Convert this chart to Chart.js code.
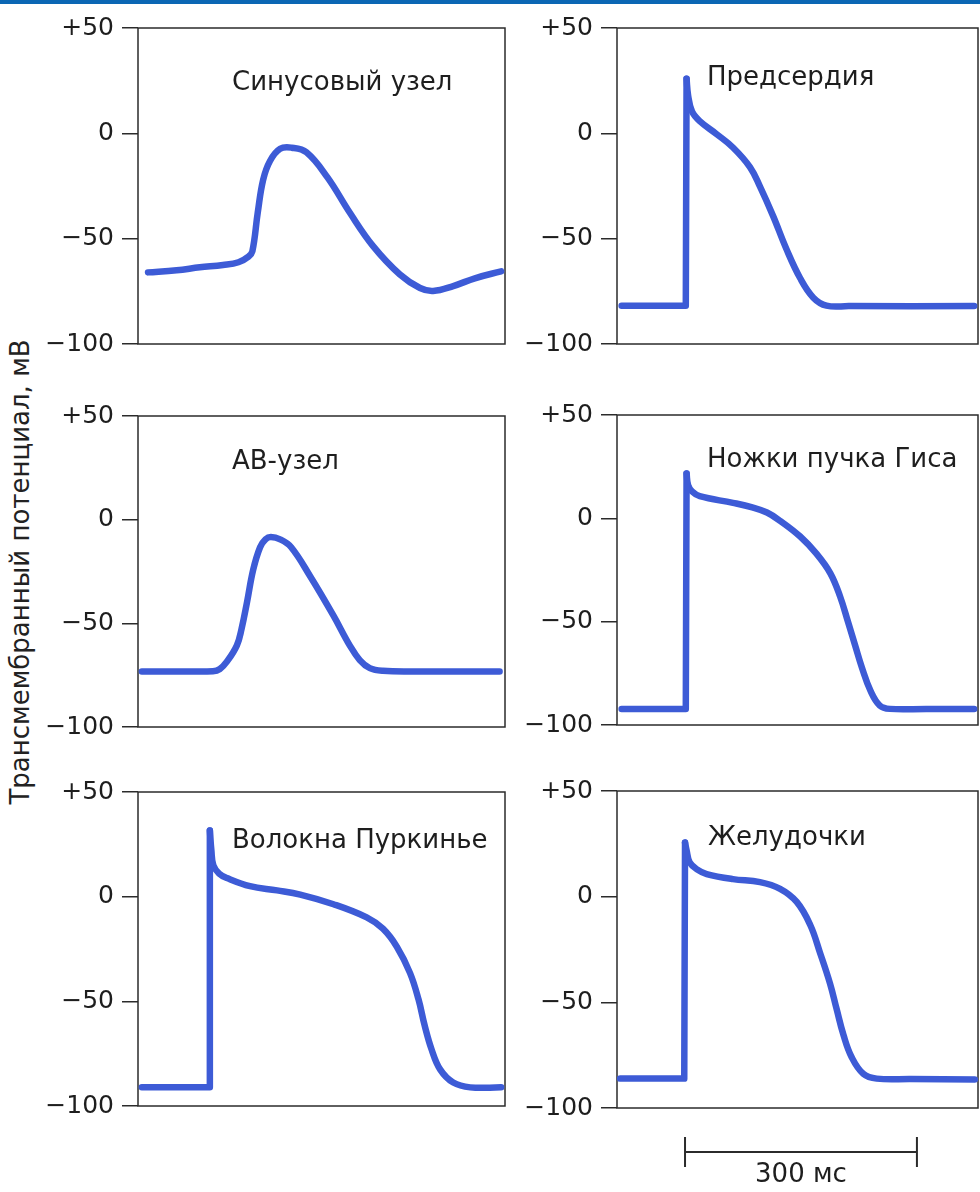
<!DOCTYPE html>
<html lang="ru">
<head>
<meta charset="utf-8">
<title>Потенциалы действия сердца</title>
<script src="https://cdn.jsdelivr.net/npm/chart.js@4.4.1/dist/chart.umd.min.js"></script>
<style>
  html, body { margin: 0; padding: 0; background: #fff; }
  body { width: 980px; height: 1192px; position: relative; overflow: hidden; font-family: "DejaVu Sans", sans-serif; }
  .topbar { position: absolute; left: 0; top: 0; width: 980px; height: 4px; background: #0b67b4; }
  .ytitle { position: absolute; left: 20px; top: 572px; transform: translate(-50%, -50%) rotate(-90deg); white-space: nowrap; font-size: 26px; color: #222; }
  canvas { position: absolute; }
</style>
</head>
<body>
<div class="topbar"></div>
<div class="ytitle">Трансмембранный потенциал, мВ</div>
<canvas id="sinus"></canvas>
<canvas id="atria"></canvas>
<canvas id="avnode"></canvas>
<canvas id="his"></canvas>
<canvas id="purkinje"></canvas>
<canvas id="ventricle"></canvas>
<script>
// time in ms, potential in mV
const sinusT = [13, 50, 80, 110, 130, 143, 148, 155, 162, 171, 184, 199, 218, 245, 274, 304, 339, 365, 382, 408, 436, 470];
const sinusV = [-66, -65, -63.6, -62.5, -61.2, -58.5, -56, -37.6, -22, -13, -7.3, -6.8, -9, -20.8, -37.6, -53.4, -67, -73.4, -74.8, -72.5, -68.8, -65.5];

const atriaT = [6, 89, 90, 92, 97, 107, 129, 150, 172, 185, 202, 219, 237, 254, 271, 300, 462];
const atriaV = [-81.8, -81.8, 25.9, 18, 10.4, 5.8, -0.4, -6.7, -16, -25.3, -39.3, -54.8, -68.8, -78, -81.8, -82, -82];

const avT = [5, 60, 97, 106, 115, 128, 134, 141, 149, 158, 165, 172, 184, 198, 223, 253, 274, 287, 300, 317, 360, 420, 468];
const avV = [-73.2, -73.2, -73.1, -72, -68.5, -60.6, -52.7, -40, -24.3, -13.3, -9.5, -8.4, -9.5, -13.2, -27.4, -46.3, -60.6, -67.7, -71.6, -72.9, -73.2, -73.2, -73.2];

const hisT = [6, 89, 90, 92, 97, 107, 150, 175, 194, 211, 237, 258, 276, 288.5, 299, 308, 317, 328, 340, 353, 400, 462];
const hisV = [-92.2, -92.2, 21.7, 16, 13, 10.7, 7.5, 5.3, 2.8, -1.2, -8.8, -17.1, -26.6, -37.7, -50.3, -61.4, -72.4, -83.5, -90.6, -92.2, -92.2, -92.2];

const purkT = [5, 92, 93, 95, 97.5, 105, 115, 145, 180, 210, 253, 296, 317, 335, 352, 363, 371, 380, 391, 408, 430, 470];
const purkV = [-91.1, -91.1, 31.6, 22, 15, 11, 8.9, 5, 3, 1, -3.6, -9.9, -15.3, -23.9, -36.4, -49, -61.5, -73, -82.5, -88.8, -91.1, -91.1];

const ventT = [4, 87, 88, 90, 94, 104, 116, 150, 185, 211, 232.5, 250, 262.6, 275.5, 284, 293, 303.6, 318.6, 336, 380, 463];
const ventV = [-86.1, -86.1, 25.6, 22, 16.2, 12.8, 10.7, 8.3, 6.9, 3.7, -2.5, -13.4, -26.5, -41, -53, -65.5, -76, -83.8, -86.1, -86.3, -86.5];

const yTicks = [-100, -50, 0, 50];
const scaleBarStart = 88;
const scaleBarLength = 300;
const scaleBarLabel = '300 мс';

const lineColor = '#3d5bd6';
const axisColor = '#2b2b2b';
const axisWidth = 110;
const padY = 20;

const panels = [
  { id: 'sinus', title: 'Синусовый узел', t: sinusT, v: sinusV, box: [138, 25, 505, 347], xMax: 475, label: [94, 62] },
  { id: 'atria', title: 'Предсердия', t: atriaT, v: atriaV, box: [617, 25, 978, 347], xMax: 467, label: [90, 57], fast: true },
  { id: 'avnode', title: 'АВ-узел', t: avT, v: avV, box: [138, 413, 505, 730], xMax: 475, label: [94, 53] },
  { id: 'his', title: 'Ножки пучка Гиса', t: hisT, v: hisV, box: [617, 412, 978, 728], xMax: 467, label: [90, 52], fast: true },
  { id: 'purkinje', title: 'Волокна Пуркинье', t: purkT, v: purkV, box: [138, 789, 505, 1109], xMax: 475, label: [94, 56], fast: true },
  { id: 'ventricle', title: 'Желудочки', t: ventT, v: ventV, box: [617, 788, 978, 1108], xMax: 467, label: [91, 54], fast: true, scaleBar: true }
];

function tickText(value) {
  if (value > 0) return '+' + value;
  if (value < 0) return '\u2212' + Math.abs(value);
  return '0';
}

const framePlugin = {
  id: 'frame',
  beforeDatasetsDraw(chart) {
    const { ctx, chartArea } = chart;
    ctx.save();
    ctx.strokeStyle = axisColor;
    ctx.lineWidth = 1.5;
    ctx.strokeRect(chartArea.left, chartArea.top, chartArea.right - chartArea.left, chartArea.bottom - chartArea.top);
    ctx.restore();
  }
};

const panelTitlePlugin = {
  id: 'panelTitle',
  afterDatasetsDraw(chart, args, opts) {
    const { ctx, chartArea } = chart;
    ctx.save();
    ctx.font = '26px "DejaVu Sans", sans-serif';
    ctx.fillStyle = '#1e1e1e';
    ctx.textAlign = 'left';
    ctx.textBaseline = 'alphabetic';
    ctx.fillText(opts.text, chartArea.left + opts.dx, chartArea.top + opts.dy);
    ctx.restore();
  }
};

const scaleBarPlugin = {
  id: 'scaleBar',
  afterDraw(chart, args, opts) {
    if (!opts.show) return;
    const { ctx, chartArea } = chart;
    const xs = chart.scales.x;
    const x0 = xs.getPixelForValue(scaleBarStart);
    const x1 = xs.getPixelForValue(scaleBarStart + scaleBarLength);
    const y = chartArea.bottom + 44;
    ctx.save();
    ctx.strokeStyle = axisColor;
    ctx.lineWidth = 2;
    ctx.beginPath();
    ctx.moveTo(x0, y);
    ctx.lineTo(x1, y);
    ctx.moveTo(x0, y - 15);
    ctx.lineTo(x0, y + 15);
    ctx.moveTo(x1, y - 15);
    ctx.lineTo(x1, y + 15);
    ctx.stroke();
    ctx.font = '26px "DejaVu Sans", sans-serif';
    ctx.fillStyle = '#1e1e1e';
    ctx.textAlign = 'center';
    ctx.textBaseline = 'alphabetic';
    ctx.fillText(scaleBarLabel, (x0 + x1) / 2, chartArea.bottom + 74);
    ctx.restore();
  }
};

function traceDataset(points, tension) {
  return {
    data: points,
    borderColor: lineColor,
    borderWidth: 6.5,
    borderJoinStyle: 'round',
    borderCapStyle: 'round',
    tension,
    pointRadius: 0,
    fill: false
  };
}

function makePanel(p) {
  const canvas = document.getElementById(p.id);
  const [L, T, R, B] = p.box;
  const padRight = 2;
  const padBottom = p.scaleBar ? 1192 - B - 2 : padY;
  canvas.width = R - L + axisWidth + padRight;
  canvas.height = B - T + padY + padBottom;
  canvas.style.left = (L - axisWidth) + 'px';
  canvas.style.top = (T - padY) + 'px';

  const points = p.t.map((t, i) => ({ x: t, y: p.v[i] }));
  let datasets;
  if (p.fast) {
    // straight rest + upstroke, smooth repolarisation from the peak on
    const peak = p.v.indexOf(Math.max(...p.v));
    datasets = [traceDataset(points.slice(0, peak + 1), 0), traceDataset(points.slice(peak), 0.4)];
  } else {
    datasets = [traceDataset(points, 0.4)];
  }

  return new Chart(canvas, {
    type: 'line',
    data: { datasets },
    options: {
      responsive: false,
      animation: false,
      layout: { padding: { top: padY, bottom: padBottom, left: 0, right: padRight } },
      plugins: {
        legend: { display: false },
        tooltip: { enabled: false },
        panelTitle: { text: p.title, dx: p.label[0], dy: p.label[1] },
        scaleBar: { show: !!p.scaleBar }
      },
      scales: {
        x: { type: 'linear', display: false, min: 0, max: p.xMax },
        y: {
          type: 'linear',
          min: -100,
          max: 50,
          afterBuildTicks: (s) => { s.ticks = yTicks.map((v) => ({ value: v })); },
          afterFit: (s) => { s.width = axisWidth; },
          border: { display: false },
          grid: { drawOnChartArea: false, drawTicks: true, tickLength: 16, color: axisColor, lineWidth: 1.5 },
          ticks: {
            padding: 8,
            color: '#1e1e1e',
            font: { family: '"DejaVu Sans", sans-serif', size: 25 },
            callback: tickText
          }
        }
      }
    },
    plugins: [framePlugin, panelTitlePlugin, scaleBarPlugin]
  });
}

panels.forEach(makePanel);
</script>
</body>
</html>
